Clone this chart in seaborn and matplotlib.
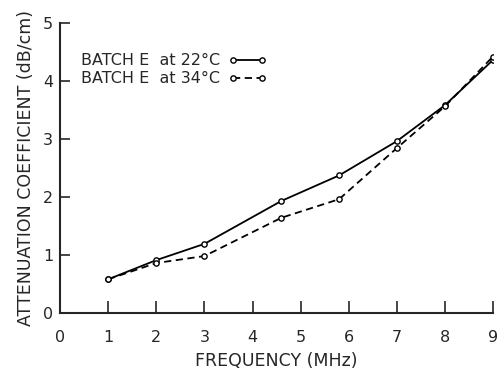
import matplotlib
matplotlib.use("Agg")
import matplotlib.pyplot as plt
import seaborn as sns
import pandas as pd

freq = [1, 2, 3, 4.6, 5.8, 7, 8, 9]
atten_22 = [0.58, 0.91, 1.19, 1.93, 2.37, 2.96, 3.58, 4.36]
atten_34 = [0.58, 0.86, 0.98, 1.64, 1.96, 2.84, 3.56, 4.42]
series = ["BATCH E  at 22°C", "BATCH E  at 34°C"]
xticks = [0, 1, 2, 3, 4, 5, 6, 7, 8, 9]
yticks = [0, 1, 2, 3, 4, 5]

df = pd.DataFrame({
    "freq": freq * 2,
    "atten": atten_22 + atten_34,
    "series": [series[0]] * len(freq) + [series[1]] * len(freq),
})

sns.set_style("ticks")
plt.rcParams['font.family'] = ['DejaVu Sans']

fig = plt.figure(figsize=(5.01, 3.69), dpi=100)
ax = fig.add_axes([0.12, 0.152, 0.864, 0.786])

sns.lineplot(data=df, x="freq", y="atten", hue="series", style="series",
             palette=["black", "black"], dashes=[(None, None), (4, 2.5)],
             markers=["o", "o"], markersize=3.8, markerfacecolor="white",
             markeredgecolor="black", markeredgewidth=1.0, linewidth=1.3,
             ax=ax, legend=True)

ax.set_xlim(0, 9)
ax.set_ylim(0, 5)
ax.set_xticks(xticks)
ax.set_yticks(yticks)
ax.tick_params(direction="in", length=9, width=1.2, labelsize=11.5)
ax.tick_params(axis="x", pad=12)
ax.tick_params(axis="y", length=7, pad=5)
for s in ["top", "right"]:
    ax.spines[s].set_visible(False)
for s in ["left", "bottom"]:
    ax.spines[s].set_linewidth(1.5)

ax.set_xlabel("FREQUENCY (MHz)", fontsize=12.5, labelpad=5)
ax.set_ylabel("ATTENUATION COEFFICIENT (dB/cm)", fontsize=12.5, labelpad=6)

leg = ax.legend(loc="upper left", bbox_to_anchor=(0.015, 0.945), frameon=False,
                fontsize=11.5, markerfirst=False, handlelength=2.4,
                handletextpad=0.5, labelspacing=0.2, numpoints=2)

fig.savefig("out.png", dpi=100)
